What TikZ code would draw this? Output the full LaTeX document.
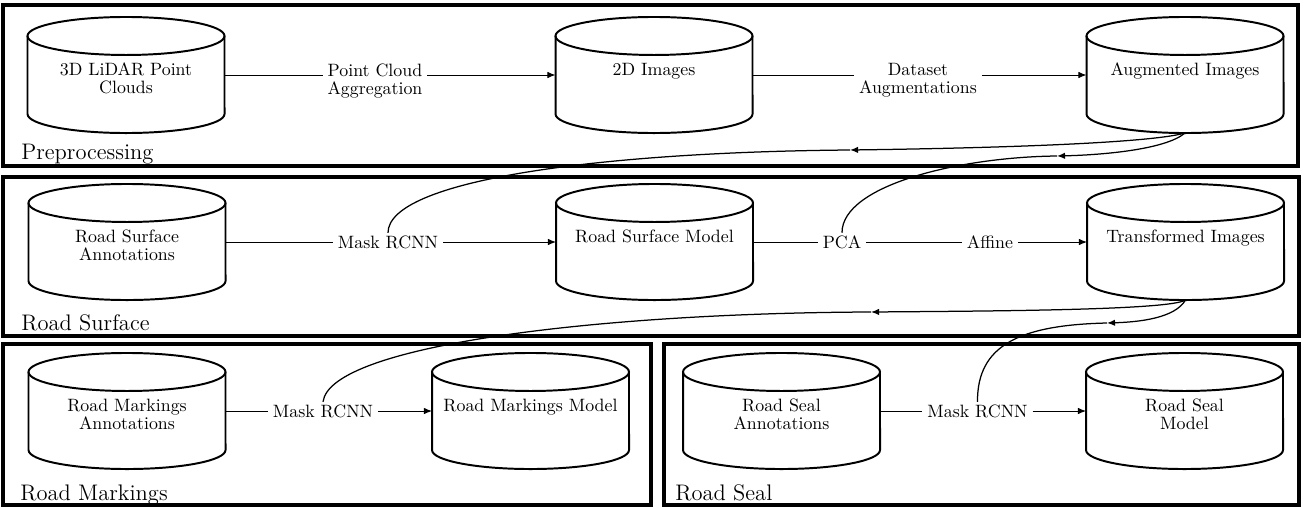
\documentclass[tikz,border=0pt]{standalone}
\usetikzlibrary{arrows.meta}
\begin{document}
\begin{tikzpicture}[x=0.56pt,y=-0.56pt,
  panel/.style={draw, line width=1.9pt},
  paneltitle/.style={anchor=base west, inner sep=0pt, font=\fontsize{12.6}{15}\selectfont},
  db/.style={minimum width=110.3pt, minimum height=43.7pt, inner sep=0pt, outer sep=0pt,
             align=center, text height=14pt, text depth=14pt,
             font=\fontsize{10}{10.2}\selectfont},
  % two-line stores: keep the first line on the centre line
  dbtwo/.style={db, text height=24.2pt, text depth=3.8pt},
  dbline/.style={line width=1.1pt},
  elabel/.style={inner xsep=2.8pt, inner ysep=1.5pt, outer sep=0pt, align=center,
                 font=\fontsize{10}{10.2}\selectfont},
  flow/.style={line width=0.5pt},
  tip/.style={-{Latex[length=4.5pt,width=3.6pt]}},
  back/.style={line width=0.7pt},
]
\useasboundingbox (0,0) rectangle (1304,507);

% stage frames
\draw[panel] (3,5) rectangle (1298,166);
\draw[panel] (3,177) rectangle (1299,336);
\draw[panel] (3,344) rectangle (651,505);
\draw[panel] (664,344) rectangle (1299,505);

\node[paneltitle] (tpre) at (21,159) {Preprocessing};
\node[paneltitle] (tsurf) at (21,330) {Road Surface};
\node[paneltitle] (tmark) at (20,500) {Road Markings};
\node[paneltitle] (tseal) at (675,500) {Road Seal};

% data stores
\node[dbtwo] (lidar) at (126,75) {3D LiDAR Point\\Clouds};
\node[db] (img2d) at (654,75) {2D Images};
\node[db] (aug) at (1185,75) {Augmented Images};
\node[dbtwo] (rsann) at (127,242) {Road Surface\\Annotations};
\node[db] (rsmod) at (654.5,242) {Road Surface Model};
\node[db] (trans) at (1185.5,242) {Transformed Images};
\node[dbtwo] (rmann) at (127,411) {Road Markings\\Annotations};
\node[db] (rmmod) at (530.5,411) {Road Markings Model};
\node[dbtwo] (slann) at (781.5,411) {Road Seal\\Annotations};
\node[dbtwo] (slmod) at (1184.5,411) {Road Seal\\Model};

\foreach \n in {lidar,img2d,aug,rsann,rsmod,trans,rmann,rmmod,slann,slmod} {
  \draw[dbline] (\n.north west) -- (\n.south west)
     arc[start angle=180, end angle=360, x radius=55.16pt, y radius=10.64pt]
     -- (\n.north east);
  \draw[dbline] (\n.north) ellipse[x radius=55.16pt, y radius=10.64pt];
}

% process labels
\node[elabel, anchor=base] (agg) at (375,94.5) {Point Cloud\\Aggregation};
\node[elabel, anchor=base] (augm) at (918,93.5) {Dataset\\Augmentations};
\node[elabel] (mask1) at (388,242) {Mask RCNN};
\node[elabel] (pca) at (842,242) {PCA};
\node[elabel] (aff) at (990,242) {Affine};
\node[elabel] (mask2) at (323,411) {Mask RCNN};
\node[elabel] (mask3) at (977.5,411) {Mask RCNN};

% main flow
\draw[flow] (lidar.east) -- (agg.west |- lidar.east);
\draw[flow,tip] (agg.east |- lidar.east) -- (img2d.west);
\draw[flow] (img2d.east) -- (augm.west |- img2d.east);
\draw[flow,tip] (augm.east |- img2d.east) -- (aug.west);
\draw[flow] (rsann) -- (mask1);
\draw[flow,tip] (mask1) -- (rsmod);
\draw[flow] (rsmod) -- (pca);
\draw[flow] (pca) -- (aff);
\draw[flow,tip] (aff) -- (trans);
\draw[flow] (rmann) -- (mask2);
\draw[flow,tip] (mask2) -- (rmmod);
\draw[flow] (slann) -- (mask3);
\draw[flow,tip] (mask3) -- (slmod);

% images fed back into the training steps
\coordinate (k1) at (850,150);
\coordinate (k2) at (1057,156);
\coordinate (k3) at (871,312);
\coordinate (k4) at (1107,323);

\draw[back,tip] ([yshift=-10.64pt]aug.south) .. controls (1150,143) and (1000,148) .. (k1);
\draw[back] (k1) .. controls (600,152) and (388,180) .. (mask1.north);
\draw[back,tip] ([yshift=-10.64pt]aug.south) .. controls (1165,150) and (1100,155) .. (k2);
\draw[back] (k2) .. controls (960,157) and (842,185) .. (pca.north);

\draw[back,tip] ([yshift=-10.64pt]trans.south) .. controls (1170,310) and (1000,311) .. (k3);
\draw[back] (k3) .. controls (600,313) and (330,345) .. (mask2.north);
\draw[back,tip] ([yshift=-10.64pt]trans.south) .. controls (1175,318) and (1140,322) .. (k4);
\draw[back] (k4) .. controls (1020,325) and (977,345) .. (mask3.north);
\end{tikzpicture}
\end{document}
